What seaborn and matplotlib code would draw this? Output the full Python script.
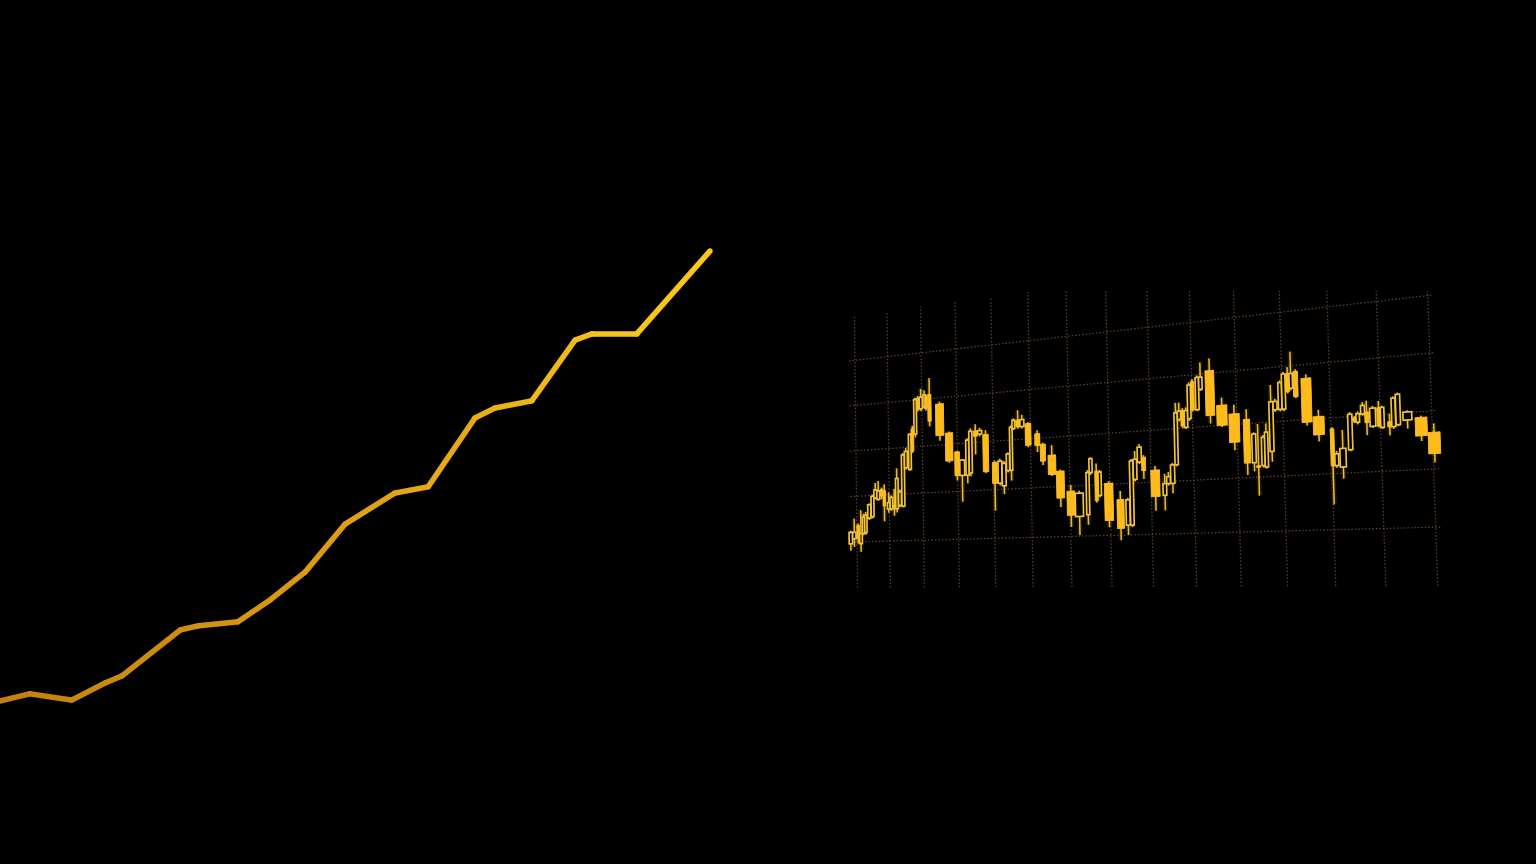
import numpy as np
import pandas as pd
import matplotlib
matplotlib.use("Agg")
import matplotlib.pyplot as plt
from matplotlib import transforms as mtransforms
from matplotlib.patches import Rectangle
from matplotlib.colors import LinearSegmentedColormap
import seaborn as sns

#---------------------------------------------------
#   data
#---------------------------------------------------
# left trend line (x: 0-100, y: 0-100)
trend_x = [0, 4.2, 10.1, 14.8, 17.2, 25.4, 27.9, 33.5, 38.0, 43.0,
           48.6, 55.6, 60.3, 66.9, 69.7, 74.9, 81.0, 83.4, 89.7, 100]
trend_y = [0, 1.6, 0.2, 4.0, 5.6, 15.8, 16.7, 17.6, 22.4, 28.7,
           39.3, 46.2, 47.6, 62.9, 65.1, 66.7, 80.2, 81.6, 81.6, 100]

# candles: time in grid columns, price in grid rows
candle_t = [-0.19, -0.08, 0.04, 0.125, 0.21, 0.28, 0.39, 0.49, 0.58, 0.67,
            0.77, 0.85, 0.98, 1.06, 1.15, 1.23, 1.32, 1.42, 1.51, 1.63,
            1.71, 1.80, 1.88, 1.97, 2.07, 2.12, 2.22, 2.51, 2.77, 2.99,
            3.13, 3.28, 3.37, 3.51, 3.63, 3.79, 4.03, 4.17, 4.28, 4.39,
            4.48, 4.55, 4.67, 4.78, 4.94, 5.18, 5.32, 5.55, 5.76, 6.02,
            6.23, 6.45, 6.53, 6.67, 6.75, 6.97, 7.25, 7.43, 7.53, 7.62,
            7.73, 7.83, 8.10, 8.32, 8.41, 8.51, 8.61, 8.69, 8.77, 8.85,
            8.93, 9.01, 9.12, 9.20, 9.41, 9.67, 9.94, 10.21, 10.36, 10.45,
            10.56, 10.63, 10.75, 10.84, 10.95, 11.03, 11.12, 11.19, 11.29, 11.51,
            11.75, 12.02, 12.10, 12.23, 12.39, 12.48, 12.55, 12.65, 12.73, 12.85,
            12.97, 13.04, 13.18, 13.26, 13.35, 13.53, 13.79, 14.03]
opens = [-0.04, 0.07, 0.36, -0.04, 0.18, 0.20, 0.51, 0.54, 0.94, 0.91,
         1.12, 1.09, 0.69, 0.69, 0.76, 0.69, 0.76, 0.74, 1.56, 1.52,
         2.38, 2.27, 3.03, 2.80, 2.84, 3.05, 3.09, 2.87, 2.24, 1.83,
         1.33, 1.33, 1.37, 2.24, 2.17, 2.15, 1.56, 1.13, 1.07, 1.38,
         1.38, 2.23, 2.40, 2.26, 2.31, 2.09, 1.87, 1.64, 1.31, 0.90,
         0.39, 0.42, 1.25, 1.27, 0.79, 1.02, 0.69, 0.19, 0.19, 1.07,
         1.40, 1.49, 1.23, 0.74, 0.96, 0.96, 1.31, 2.17, 2.33, 2.01,
         2.17, 2.87, 2.33, 2.71, 3.05, 2.38, 2.20, 2.08, 1.27, 1.21,
         1.21, 1.18, 1.46, 2.22, 2.22, 2.22, 2.86, 2.59, 2.89, 2.75,
         2.04, 1.80, 1.14, 1.11, 1.41, 1.97, 1.89, 2.03, 2.06, 1.80,
         2.12, 1.77, 1.86, 1.77, 1.80, 1.87, 1.90, 1.63]
highs = [0.25, 0.51, 0.40, 0.69, 0.61, 0.65, 0.83, 1.02, 1.27, 1.31,
         1.16, 1.23, 1.05, 0.98, 1.12, 1.56, 1.10, 1.88, 1.99, 2.30,
         2.45, 3.05, 3.08, 3.23, 3.19, 3.10, 3.44, 2.92, 2.27, 1.85,
         1.67, 2.10, 2.30, 2.38, 2.30, 2.24, 1.60, 1.63, 1.58, 1.75,
         2.30, 2.44, 2.60, 2.50, 2.34, 2.16, 1.90, 1.84, 1.34, 1.02,
         0.90, 1.30, 1.55, 1.42, 1.29, 1.06, 0.86, 0.72, 1.47, 1.62,
         1.75, 1.53, 1.31, 1.15, 1.18, 1.35, 2.49, 2.49, 2.38, 2.39,
         2.86, 2.92, 2.98, 3.22, 3.28, 2.52, 2.37, 2.27, 1.83, 1.98,
         1.77, 1.98, 2.68, 2.42, 2.75, 2.90, 2.98, 3.26, 2.93, 2.82,
         2.16, 1.83, 1.40, 1.77, 2.08, 2.00, 2.08, 2.24, 2.26, 2.16,
         2.24, 2.15, 2.00, 2.30, 2.36, 2.04, 1.93, 1.78]
lows = [-0.19, -0.11, -0.04, -0.22, 0.14, 0.15, 0.47, 0.50, 0.91, 0.88,
        0.91, 0.43, 0.61, 0.65, 0.54, 0.61, 0.72, 0.71, 1.52, 1.49,
        1.87, 2.20, 2.75, 2.75, 2.80, 2.75, 2.41, 2.09, 1.61, 1.23,
        0.78, 1.16, 1.30, 1.75, 2.12, 1.35, 0.57, 1.08, 0.90, 1.34,
        1.17, 2.20, 2.22, 2.22, 1.83, 1.72, 1.45, 1.22, 0.59, 0.19,
        0.02, 0.22, 1.20, 0.65, 0.75, 0.16, -0.10, 0.00, 0.15, 1.03,
        1.36, 1.07, 0.45, 0.45, 0.92, 0.77, 1.28, 2.13, 2.00, 1.98,
        2.13, 2.30, 2.30, 2.68, 2.05, 1.97, 1.52, 1.05, 1.11, 0.66,
        1.17, 1.15, 1.27, 2.18, 2.18, 2.18, 2.50, 2.55, 2.40, 1.89,
        1.59, 0.45, 1.10, 0.90, 1.38, 1.88, 1.85, 2.00, 1.65, 1.77,
        1.77, 1.74, 1.62, 1.73, 1.77, 1.72, 1.49, 1.11]
closes = [0.21, 0.21, 0.07, 0.18, 0.54, 0.58, 0.80, 0.98, 1.12, 1.09,
          0.98, 0.76, 0.83, 0.94, 0.69, 1.34, 1.05, 1.84, 1.91, 2.27,
          1.91, 3.01, 2.80, 3.05, 3.09, 2.80, 2.52, 2.20, 1.65, 1.33,
          1.65, 2.06, 2.24, 2.13, 2.24, 1.38, 1.13, 1.58, 1.53, 1.72,
          2.26, 2.40, 2.26, 2.40, 1.87, 1.85, 1.53, 1.25, 0.77, 0.42,
          0.85, 1.25, 1.52, 0.69, 1.25, 0.29, 0.13, 0.68, 1.43, 1.46,
          1.69, 1.23, 0.72, 0.96, 1.09, 1.31, 2.30, 2.33, 2.04, 2.33,
          2.81, 2.33, 2.94, 2.94, 2.20, 2.00, 1.67, 1.27, 1.80, 1.18,
          1.73, 1.82, 2.37, 2.37, 2.71, 2.86, 2.53, 2.86, 2.43, 1.95,
          1.71, 1.14, 1.35, 1.44, 2.04, 1.91, 2.04, 2.18, 1.87, 2.12,
          1.80, 2.12, 1.77, 2.27, 2.33, 2.01, 1.58, 1.26]

grid_rows = [0, 1, 2, 3, 4]
grid_cols = list(range(15))


#---------------------------------------------------
#   perspective transform (unit square -> panel quad)
#---------------------------------------------------
class Perspective(mtransforms.Transform):
    input_dims = 2
    output_dims = 2
    is_separable = False
    has_inverse = True

    def __init__(self, matrix):
        super().__init__()
        self.matrix = matrix

    def transform_non_affine(self, values):
        pts = np.atleast_2d(np.asarray(values, dtype=float))
        hom = np.column_stack([pts, np.ones(len(pts))]) @ self.matrix.T
        return hom[:, :2] / hom[:, 2:3]

    def inverted(self):
        return Perspective(np.linalg.inv(self.matrix))


def solve_homography(src, dst):
    A, b = [], []
    for (x, y), (X, Y) in zip(src, dst):
        A.append([x, y, 1, 0, 0, 0, -x * X, -y * X]); b.append(X)
        A.append([0, 0, 0, x, y, 1, -x * Y, -y * Y]); b.append(Y)
    h = np.linalg.solve(np.array(A, float), np.array(b, float))
    return np.append(h, 1.0).reshape(3, 3)


W, H = 1536, 864
sns.set_theme(style="dark", rc={"figure.facecolor": "black", "axes.facecolor": "black",
                                "savefig.facecolor": "black"})
fig = plt.figure(figsize=(W / 100, H / 100), dpi=100)

#---------------------------------------------------
#   left: gradient trend line
#---------------------------------------------------
ax1 = fig.add_axes([0, 1 - 701 / H, 710 / W, 450 / H])
ax1.set_facecolor("none")
rows = []
for i in range(len(trend_x) - 1):
    rows.append((trend_x[i], trend_y[i], i))
    rows.append((trend_x[i + 1], trend_y[i + 1], i))
df_line = pd.DataFrame(rows, columns=["day", "value", "seg"])
cmap = LinearSegmentedColormap.from_list("gold", ["#c3820f", "#dc9c14", "#f9c71c"])
n_seg = len(trend_x) - 1
palette = [cmap(i / (n_seg - 1)) for i in range(n_seg)]
sns.lineplot(data=df_line, x="day", y="value", hue="seg", palette=palette,
             estimator=None, sort=False, legend=False, linewidth=4.0,
             solid_capstyle="round", clip_on=False, ax=ax1)
ax1.set_xlim(0, 100)
ax1.set_ylim(0, 100)
ax1.set_axis_off()

#---------------------------------------------------
#   right: candlestick chart on a tilted grid
#---------------------------------------------------
ax2 = fig.add_axes([0, 0, 1, 1])
ax2.set_facecolor("none")
ax2.set_axis_off()

quad_px = [(851, 542), (1441, 527), (849, 361), (1433, 295)]
quad = [(x / W, 1 - y / H) for x, y in quad_px]
Hm = solve_homography([(0, 0), (1, 0), (0, 1), (1, 1)], quad)
col_step, col_off = 0.07, 0.013
T = (mtransforms.Affine2D().scale(col_step, 0.25).translate(col_off, 0.0)
     + Perspective(Hm) + ax2.transAxes)

u_left, u_right = -col_off / col_step, (1 - col_off) / col_step
grid_kw = dict(colors="#5e3f38", linewidths=0.9, linestyles=(0, (1.2, 1.6)), transform=T)
ax2.hlines(grid_rows, u_left, u_right, **grid_kw)
vl = ax2.vlines(grid_cols, -1, 5, **grid_kw)
vl.set_clip_path(Rectangle((0, 0), 1, 1 - 291 / H, transform=ax2.transAxes))

t = np.array(candle_t)
o, hi, lo, c = map(np.array, (opens, highs, lows, closes))
gaps = np.diff(t)
near = np.minimum(np.r_[gaps[0], gaps], np.r_[gaps, gaps[-1]])
widths = np.clip(0.95 * near, 0.07, 0.23)

wick_col = "#eebb2c"
ax2.vlines(t, lo, hi, colors=wick_col, linewidths=3.5, alpha=0.12, transform=T)
ax2.vlines(t, lo, hi, colors=wick_col, linewidths=1.1, transform=T, zorder=2)
for ti, oi, ci, wi in zip(t, o, c, widths):
    bottom = min(oi, ci)
    height = max(abs(ci - oi), 0.02)
    if ci < oi:
        rect = Rectangle((ti - wi / 2, bottom), wi, height, facecolor="#ffbb1c",
                         edgecolor="#ffc42a", linewidth=0.6, transform=T, zorder=3)
    else:
        rect = Rectangle((ti - wi / 2, bottom), wi, height, facecolor="black",
                         edgecolor="#f0c33a", linewidth=1.2, transform=T, zorder=3)
    ax2.add_patch(rect)

fig.savefig("out.png", dpi=100, facecolor="black")
